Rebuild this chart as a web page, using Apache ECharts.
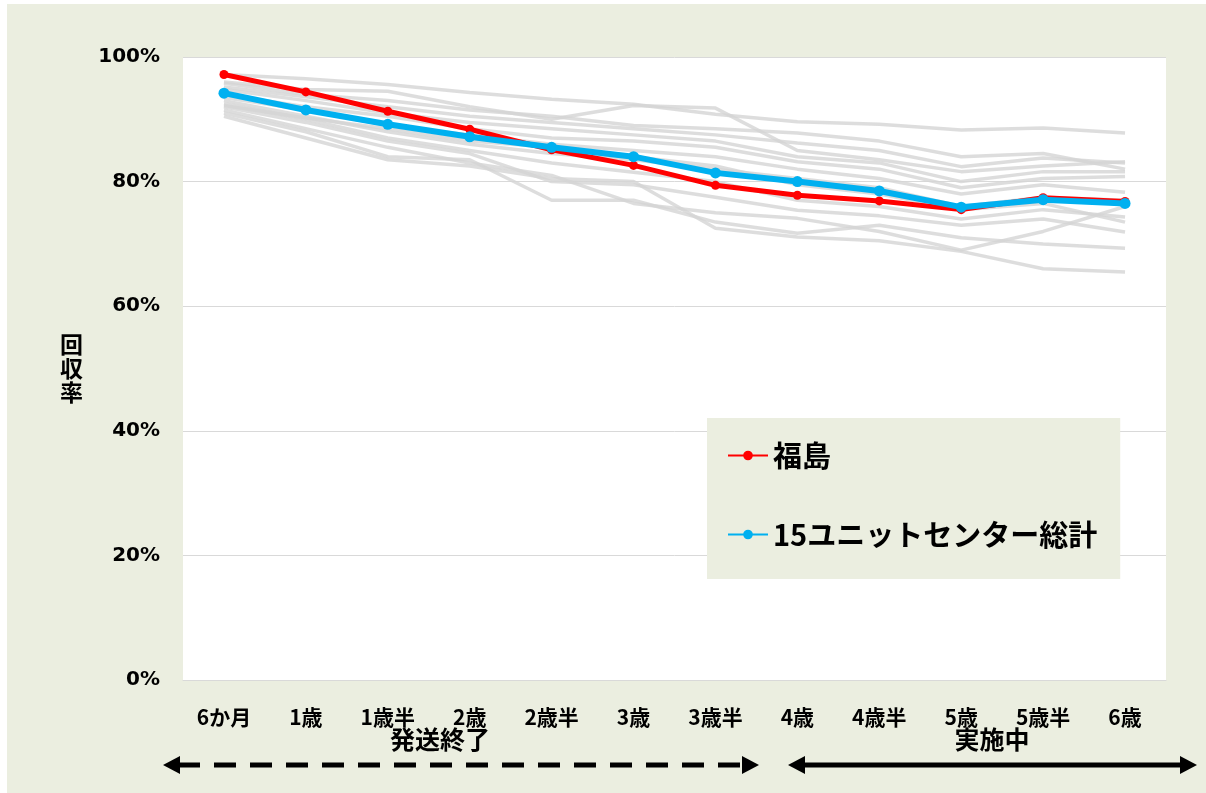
<!DOCTYPE html>
<html>
<head>
<meta charset="utf-8">
<script src="https://cdn.jsdelivr.net/npm/echarts@6/dist/echarts.min.js"></script>
<style>
  html, body { margin: 0; padding: 0; background: #ffffff; }
  #chart { position: absolute; left: 7px; top: 4px; width: 1199px; height: 789px; background: #ebeee0; }
</style>
</head>
<body>
<div id="chart"></div>
<script>
  // 月齢区分
  var categories = ['6か月', '1歳', '1歳半', '2歳', '2歳半', '3歳', '3歳半', '4歳', '4歳半', '5歳', '5歳半', '6歳'];
  var yTicks = [0, 20, 40, 60, 80, 100];

  // 福島 / 総計 (%)
  var fukushima = [97.2, 94.4, 91.3, 88.4, 85.1, 82.6, 79.4, 77.8, 76.9, 75.5, 77.4, 76.8];
  var total15 = [94.2, 91.5, 89.2, 87.2, 85.5, 84.0, 81.4, 80.0, 78.5, 75.9, 77.1, 76.5];

  // 他ユニットセンター (灰色の線)
  var unit01 = [97.2, 96.5, 95.6, 94.3, 93.2, 92.4, 90.8, 89.6, 89.2, 88.3, 88.6, 87.8];
  var unit02 = [96.0, 94.8, 94.5, 92.0, 90.0, 92.2, 91.8, 85.0, 83.5, 81.6, 82.5, 83.2];
  var unit03 = [95.2, 93.6, 92.0, 90.5, 89.5, 88.5, 87.5, 86.2, 85.0, 82.4, 83.8, 83.0];
  var unit04 = [94.8, 93.0, 91.0, 89.5, 88.5, 87.5, 86.5, 84.0, 83.0, 80.0, 81.6, 81.6];
  var unit05 = [94.0, 92.0, 90.5, 88.5, 87.0, 86.5, 85.5, 83.2, 82.0, 79.0, 80.5, 80.8];
  var unit06 = [93.5, 91.5, 89.0, 87.5, 86.0, 85.0, 84.0, 82.0, 80.5, 78.0, 79.5, 78.3];
  var unit07 = [93.0, 90.5, 88.0, 86.0, 84.5, 83.5, 82.0, 80.5, 79.0, 76.0, 77.5, 77.0];
  var unit08 = [92.5, 90.0, 87.0, 85.0, 83.0, 81.5, 80.0, 77.0, 76.0, 74.0, 75.5, 74.3];
  var unit09 = [92.0, 89.5, 86.5, 84.5, 80.0, 79.5, 77.5, 75.4, 74.5, 73.0, 74.0, 71.9];
  var unit10 = [91.5, 88.5, 85.5, 83.0, 81.0, 76.5, 75.0, 74.1, 72.0, 69.0, 72.0, 76.0];
  var unit11 = [91.0, 88.0, 84.0, 83.5, 77.0, 77.0, 73.5, 71.7, 73.0, 71.0, 70.0, 69.3];
  var unit12 = [90.5, 87.0, 83.5, 82.5, 80.5, 80.0, 72.5, 71.1, 70.5, 68.8, 66.0, 65.5];
  var unit13 = [92.2, 90.2, 88.5, 86.5, 85.5, 84.0, 82.5, 79.5, 78.0, 75.5, 76.5, 73.5];
  var unit14 = [95.8, 94.0, 93.0, 91.5, 90.5, 89.0, 88.5, 87.8, 86.5, 84.0, 84.5, 82.0];
  var otherUnits = [unit01, unit02, unit03, unit04, unit05, unit06, unit07,
                    unit08, unit09, unit10, unit11, unit12, unit13, unit14];

  var jpFont = '"Noto Sans CJK JP", sans-serif';
  var numFont = '"DejaVu Sans", sans-serif';

  var chart = echarts.init(document.getElementById('chart'));

  var series = otherUnits.map(function (d, i) {
    return {
      name: 'unit' + (i + 1),
      type: 'line',
      data: d,
      symbol: 'none',
      silent: true,
      z: 1,
      lineStyle: { color: '#d4d4d4', width: 3.5, opacity: 0.8 }
    };
  });
  series.push({
    name: '福島',
    type: 'line',
    data: fukushima,
    symbol: 'circle',
    symbolSize: 9,
    z: 3,
    itemStyle: { color: '#ff0000' },
    lineStyle: { color: '#ff0000', width: 5 }
  });
  series.push({
    name: '15ユニットセンター総計',
    type: 'line',
    data: total15,
    symbol: 'circle',
    symbolSize: 11,
    z: 4,
    itemStyle: { color: '#00b0f0' },
    lineStyle: { color: '#00b0f0', width: 6 }
  });

  var option = {
    animation: false,
    backgroundColor: '#ebeee0',
    grid: {
      left: 176, right: 40, top: 53, bottom: 113,
      show: true, backgroundColor: '#ffffff', borderWidth: 0
    },
    legend: {
      data: ['福島', '15ユニットセンター総計'],
      orient: 'vertical',
      left: 700,
      top: 414,
      padding: [23, 23, 30, 20],
      backgroundColor: '#ebeee0',
      itemWidth: 40,
      itemHeight: 12,
      itemGap: 50,
      textStyle: { fontSize: 29, fontWeight: 'bold', color: '#000', fontFamily: jpFont }
    },
    xAxis: {
      type: 'category',
      data: categories,
      boundaryGap: true,
      axisTick: { show: false },
      axisLine: { lineStyle: { color: '#d9d9d9', width: 1 } },
      axisLabel: {
        margin: 27,
        fontSize: 21,
        fontWeight: 'bold',
        color: '#000',
        fontFamily: jpFont,
        interval: 0
      }
    },
    yAxis: {
      type: 'value',
      min: yTicks[0],
      max: yTicks[yTicks.length - 1],
      interval: 20,
      axisLine: { show: false },
      axisTick: { show: false },
      splitLine: { lineStyle: { color: '#d9d9d9', width: 1 } },
      axisLabel: {
        margin: 23,
        fontSize: 20,
        fontWeight: 'bold',
        color: '#000',
        fontFamily: numFont,
        formatter: '{value}%'
      }
    },
    graphic: [
      // 縦軸タイトル
      {
        type: 'text', left: 53, top: 328,
        style: { text: '回\n収\n率', fontSize: 23, fontWeight: 'bold', lineHeight: 24,
                 fill: '#000', fontFamily: 'Noto Sans CJK JP' }
      },
      {
        type: 'text', x: 433, y: 735,
        style: { text: '発送終了', fontSize: 25, fontWeight: 'bold', fill: '#000',
                 fontFamily: 'Noto Sans CJK JP', align: 'center', verticalAlign: 'middle' }
      },
      {
        type: 'text', x: 985, y: 735,
        style: { text: '実施中', fontSize: 25, fontWeight: 'bold', fill: '#000',
                 fontFamily: 'Noto Sans CJK JP', align: 'center', verticalAlign: 'middle' }
      },
      // 点線矢印
      {
        type: 'line',
        shape: { x1: 171, y1: 761, x2: 736, y2: 761 },
        style: { stroke: '#000', lineWidth: 5, lineDash: [22, 14] }
      },
      {
        type: 'polygon',
        shape: { points: [[156, 761], [173, 752], [173, 770]] },
        style: { fill: '#000' }
      },
      {
        type: 'polygon',
        shape: { points: [[752, 761], [735, 752], [735, 770]] },
        style: { fill: '#000' }
      },
      // 実線矢印
      {
        type: 'line',
        shape: { x1: 795, y1: 761, x2: 1176, y2: 761 },
        style: { stroke: '#000', lineWidth: 5 }
      },
      {
        type: 'polygon',
        shape: { points: [[781, 761], [798, 752], [798, 770]] },
        style: { fill: '#000' }
      },
      {
        type: 'polygon',
        shape: { points: [[1190, 761], [1173, 752], [1173, 770]] },
        style: { fill: '#000' }
      }
    ],
    series: series
  };

  chart.setOption(option);
</script>
</body>
</html>
